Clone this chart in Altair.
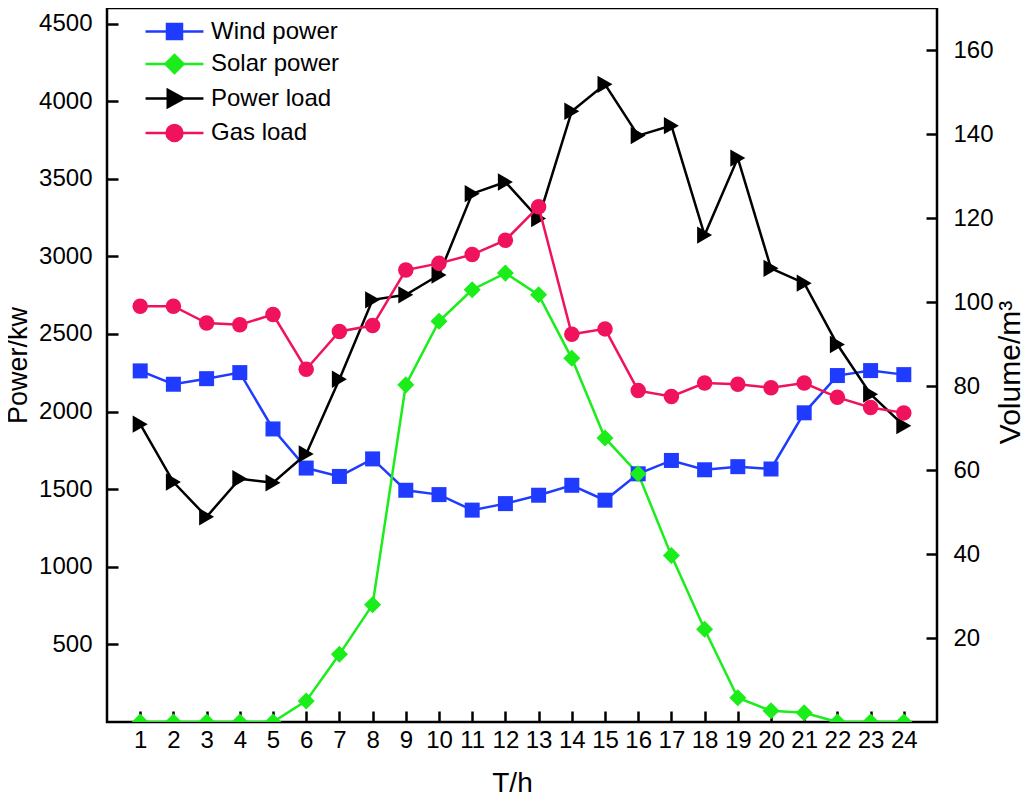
import altair as alt
import pandas as pd

hours = list(range(1, 25))
wind_power = [2262, 2176, 2212, 2251, 1888, 1636, 1582, 1695, 1493, 1465, 1365, 1407,
              1461, 1525, 1429, 1599, 1685, 1625, 1645, 1630, 1992, 2232, 2264, 2238]
solar_power = [0, 0, 0, 0, 0, 136, 436, 756, 2172, 2582, 2785, 2892,
               2752, 2343, 1830, 1599, 1072, 598, 156, 72, 60, 0, 0, 0]
power_load = [1919, 1546, 1322, 1567, 1541, 1727, 2208, 2720, 2752, 2880, 3404, 3479,
              3244, 3935, 4108, 3778, 3842, 3137, 3633, 2923, 2827, 2432, 2112, 1909]
gas_load = [99.0, 99.0, 95.0, 94.6, 97.0, 84.0, 93.0, 94.4, 107.6, 109.2, 111.3, 114.7,
            122.7, 92.3, 93.6, 78.9, 77.5, 80.7, 80.4, 79.6, 80.7, 77.3, 74.9, 73.6]

series_names = ["Wind power", "Solar power", "Power load", "Gas load"]
series_colors = ["#1f3bff", "#1aed1a", "#000000", "#f0125c"]
series_shapes = ["square", "diamond", "triangle-right", "circle"]
series_sizes = [225, 290, 300, 240]

left_ticks = [500, 1000, 1500, 2000, 2500, 3000, 3500, 4000, 4500]
right_ticks = [20, 40, 60, 80, 100, 120, 140, 160]

W, H, TICK = 830, 714, 11

left_values = {"Wind power": wind_power, "Solar power": solar_power, "Power load": power_load}

FONT = "Liberation Sans"

color_scale = alt.Scale(domain=series_names, range=series_colors)

LINE = "M-1.93,0H1.93"
shape_expr = (
    "datum.value === 'Wind power' ? '" + LINE + "M-0.5,-0.5H0.5V0.5H-0.5Z' : "
    "datum.value === 'Solar power' ? '" + LINE + "M-0.6,0L0,-0.6L0.6,0L0,0.6Z' : "
    "datum.value === 'Power load' ? '" + LINE + "M-0.45,-0.57L0.6,0L-0.45,0.57Z' : '"
    + LINE + "M-0.53,0A0.53,0.53 0 1,0 0.53,0A0.53,0.53 0 1,0 -0.53,0Z'"
)

legend = alt.Legend(
    title=None, orient="none", legendX=51, legendY=7, padding=0,
    symbolSize=900, symbolStrokeWidth=2.5,
    symbolType=alt.ExprRef(expr=shape_expr),
    symbolStrokeColor=alt.ExprRef(expr="scale('color', datum.value)"),
    labelFont=FONT, labelFontSize=24, labelColor="black", labelOffset=20,
    rowPadding=3.5,
)

# Axes are pulled inward by the tick length so their ticks point into the plot;
# the view border supplies the frame lines.
axis_common = dict(format="d", labelOverlap=False, domain=False, ticks=True,
                   tickSize=TICK, tickWidth=2.5, tickColor="black", offset=-TICK,
                   titleBaseline="middle")

x_scale = alt.Scale(domain=[0, 25], nice=False, zero=False)
x_axis = alt.Axis(values=hours, title="T/h", labelPadding=6, titleFontSize=28,
                  titleX=405, titleY=72, **axis_common)
x_enc = alt.X("T:Q", scale=x_scale, axis=x_axis)

y_left_scale = alt.Scale(domain=[0, 4600], nice=False)
y_left_axis = alt.Axis(values=left_ticks, title="Power/kw", orient="left",
                       labelPadding=15, titleFontSize=27,
                       titleX=-100, titleY=357, titleAngle=270, titleAlign="center",
                       **axis_common)
y_left = alt.Y("value:Q", scale=y_left_scale, axis=y_left_axis)

y_right_scale = alt.Scale(domain=[0, 170], nice=False)
y_right_axis = alt.Axis(values=right_ticks, title="Volume/m³", orient="right",
                        labelPadding=16, titleFontSize=30,
                        titleX=84, titleY=364, titleAngle=270, titleAlign="center",
                        **axis_common)
y_right = alt.Y("value:Q", scale=y_right_scale, axis=y_right_axis)


def color_enc():
    return alt.Color("series:N", scale=color_scale, legend=legend)


left_layers = []
for name in series_names[:3]:
    df = pd.DataFrame({"T": hours, "value": left_values[name], "series": [name] * 24})
    left_layers.append(alt.Chart(df).mark_line(strokeWidth=2.5, clip=True).encode(
        x=x_enc, y=y_left, color=color_enc()))
for name in series_names[:3]:
    i = series_names.index(name)
    df = pd.DataFrame({"T": hours, "value": left_values[name], "series": [name] * 24})
    left_layers.append(alt.Chart(df).mark_point(
        filled=True, opacity=1, clip=True, shape=series_shapes[i], size=series_sizes[i]
    ).encode(x=x_enc, y=y_left, color=color_enc()))

right_df = pd.DataFrame({"T": hours, "value": gas_load, "series": ["Gas load"] * 24})
right_line = alt.Chart(right_df).mark_line(strokeWidth=2.5, clip=True).encode(
    x=x_enc, y=y_right, color=color_enc(),
)
right_pts = alt.Chart(right_df).mark_point(
    filled=True, opacity=1, clip=True, shape=series_shapes[3], size=series_sizes[3]
).encode(x=x_enc, y=y_right, color=color_enc())

left = alt.layer(*left_layers)
right = alt.layer(right_line, right_pts)

chart = alt.layer(left, right).resolve_scale(y="independent").properties(
    width=W, height=H,
    background="white",
    autosize=alt.AutoSizeParams(type="none"),
    padding={"left": 99, "top": 0, "right": 89, "bottom": 74},
).configure_view(
    stroke="black", strokeWidth=2.5
).configure_axis(
    grid=False,
    labelFont=FONT, labelFontSize=24, labelColor="black",
    titleFont=FONT, titleFontSize=26, titleFontWeight="normal", titleColor="black",
)

chart.save("out.html", embed_options={"renderer": "svg", "actions": False})
